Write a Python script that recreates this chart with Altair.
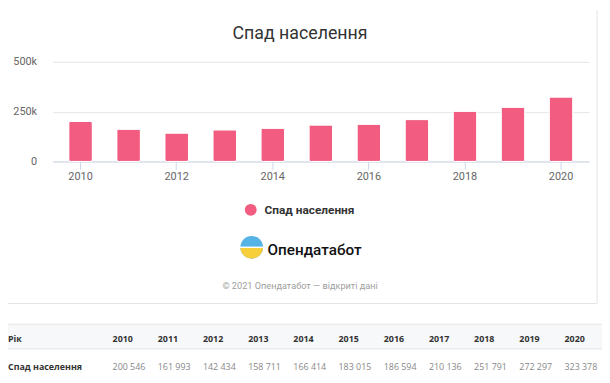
import math
import altair as alt
import pandas as pd

# ---- data ----
years = [2010, 2011, 2012, 2013, 2014, 2015, 2016, 2017, 2018, 2019, 2020]
values = [200546, 161993, 142434, 158711, 166414, 183015, 186594, 210136, 251791, 272297, 323378]
y_ticks = [0, 250000, 500000]
x_ticks = [2010, 2012, 2014, 2016, 2018, 2020]
series_name = "Спад населення"
title_text = "Спад населення"
logo_text = "Опендатабот"
footer_text = "© 2021 Опендатабот — відкриті дані"
table_head = "Рік"

PINK = "#f15c80"
df = pd.DataFrame({
    "year": years,
    "value": values,
    "label": [f"{v:,}".replace(",", " ") for v in values],
})

def one():
    return pd.DataFrame({"k": [0]})

W, H = 544, 101

bars = alt.Chart(df).mark_bar(color=PINK, stroke="white", strokeWidth=1, cornerRadius=1.5).encode(
    x=alt.X("year:O",
            scale=alt.Scale(paddingInner=0.507, paddingOuter=0.339),
            axis=alt.Axis(title=None, values=x_ticks, labelAngle=0, labelFontSize=11,
                          labelColor="#666666", labelFont="Roboto", tickColor="#ccd6eb",
                          tickSize=8, labelPadding=1, domainColor="#ccd6eb", domainWidth=1)),
    y=alt.Y("value:Q",
            scale=alt.Scale(domain=[0, 500000], nice=False),
            axis=alt.Axis(title=None, values=y_ticks,
                          labelExpr="datum.value == 0 ? '0' : format(datum.value, '~s')",
                          ticks=False, domain=False,
                          gridColor="#e6e6e6", labelFontSize=11, labelColor="#666666",
                          labelFont="Roboto", labelPadding=16)),
)

def txt(text, x, y, **kw):
    return alt.Chart(one()).mark_text(text=text, **kw).encode(x=alt.value(x), y=alt.value(y))

title = txt(title_text, 251, -23, fontSize=18, font="Roboto", color="#333333",
            align="center", baseline="alphabetic")

leg_sym = alt.Chart(one()).mark_point(shape="circle", filled=True, opacity=1, size=144,
                                      color=PINK).encode(x=alt.value(201), y=alt.value(150))
leg_txt = txt(series_name, 215, 154, fontSize=12, font="Roboto", fontWeight="bold",
              color="#333333", align="left", baseline="alphabetic")

logo_blue = alt.Chart(one()).mark_point(shape="circle", filled=True, opacity=1, size=529,
                                        color="#55b3e6").encode(x=alt.value(202), y=alt.value(188))
logo_yellow = alt.Chart(one()).mark_arc(theta=math.pi / 2, theta2=3 * math.pi / 2, radius=11.5,
                                        color="#f6cf3a").encode(x=alt.value(202), y=alt.value(188))
logo_line = alt.Chart(one()).mark_rule(color="white", strokeWidth=1.5).encode(
    x=alt.value(190), x2=alt.value(214), y=alt.value(188))
logo_txt = txt(logo_text, 218, 196, fontSize=15.5, font="Roboto", fontWeight=500,
               color="#111111", align="left", baseline="alphabetic")
footer = txt(footer_text, 251, 230, fontSize=9.3, font="Roboto", color="#9e9e9e",
             align="center", baseline="alphabetic")

card_right = alt.Chart(one()).mark_rule(color="#e3e3e3").encode(
    x=alt.value(552), y=alt.value(-52), y2=alt.value(245))
card_bottom = alt.Chart(one()).mark_rule(color="#e3e3e3").encode(
    x=alt.value(-45), x2=alt.value(552), y=alt.value(245))

tbl_bg = alt.Chart(one()).mark_rect(color="#f7f8fa").encode(
    x=alt.value(-45), x2=alt.value(557), y=alt.value(266), y2=alt.value(291))
tbl_top = alt.Chart(one()).mark_rule(color="#e6e6e6").encode(
    x=alt.value(-45), x2=alt.value(557), y=alt.value(266))
tbl_sep = alt.Chart(one()).mark_rule(color="#e6e6e6").encode(
    x=alt.value(-45), x2=alt.value(557), y=alt.value(291))

tx = alt.X("year:O", scale=alt.Scale(type="point", range=[61, 519], padding=0), axis=None)
head_years = alt.Chart(df).mark_text(fontSize=9, font="Open Sans", fontWeight="bold",
                                     color="#333333", align="left", baseline="middle").encode(
    x=tx, y=alt.value(281), text="year:N")
row_vals = alt.Chart(df).mark_text(fontSize=9, font="Open Sans", color="#888888",
                                   align="left", baseline="middle").encode(
    x=tx, y=alt.value(309), text="label:N")
head_lbl = txt(table_head, -45, 281, fontSize=9, font="Open Sans", fontWeight="bold",
               color="#333333", align="left", baseline="middle")
row_lbl = txt(series_name, -45, 309, fontSize=9, font="Open Sans", fontWeight="bold",
              color="#333333", align="left", baseline="middle")

chart = alt.layer(
    card_right, card_bottom, tbl_bg, tbl_top, tbl_sep,
    bars, title, leg_sym, leg_txt, logo_blue, logo_yellow, logo_line, logo_txt, footer,
    head_years, row_vals, head_lbl, row_lbl,
).resolve_scale(x="independent").properties(
    width=W, height=H,
    autosize=alt.AutoSizeParams(type="none"),
    padding={"left": 45, "top": 52, "right": 13, "bottom": 222},
).configure_view(stroke=None)

chart.save("out.html", embed_options={"renderer": "svg", "actions": False})
